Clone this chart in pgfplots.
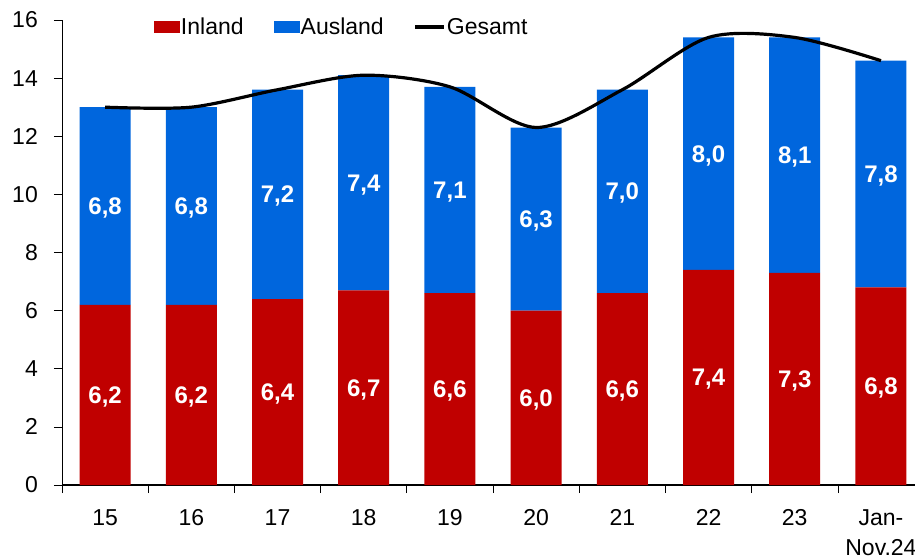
\documentclass[border=0pt]{standalone}
\usepackage{pgfplots}
\pgfplotsset{compat=1.18}
\usepackage{pgfplotstable}
\usepackage{fontspec}
\setmainfont{Liberation Sans}
\definecolor{inred}{HTML}{C00000}
\definecolor{ausblue}{HTML}{0066DD}
\pgfplotstableread{
x in au tot lin lau
0 6.2 6.8 13.0 6,2 6,8
1 6.2 6.8 13.0 6,2 6,8
2 6.4 7.2 13.6 6,4 7,2
3 6.7 7.4 14.1 6,7 7,4
4 6.6 7.1 13.7 6,6 7,1
5 6.0 6.3 12.3 6,0 6,3
6 6.6 7.0 13.6 6,6 7,0
7 7.4 8.0 15.4 7,4 8,0
8 7.3 8.1 15.4 7,3 8,1
9 6.8 7.8 14.6 6,8 7,8
}\datatable
\pgfplotsset{
  common/.style={
    scale only axis,
    width=853pt, height=465pt,
    xmin=-0.5, xmax=9.395,
    ymin=0, ymax=16,
    /pgf/number format/assume math mode=true,
  }
}
\begin{document}
\begin{tikzpicture}
\begin{axis}[
  common,
  ybar stacked,
  bar width=51pt,
  axis x line*=bottom,
  axis y line*=left,
  x axis line style={black, line width=1.2pt},
  y axis line style={black, line width=0.7pt},
  tick style={black, line width=0.7pt},
  tick align=outside,
  major tick length=8pt,
  ytick={0,2,...,16},
  yticklabel style={font=\fontsize{23}{23}\selectfont, anchor=east, inner sep=0pt, xshift=-16pt},
  xtick={-0.5,0.5,...,8.5},
  xticklabels={},
  extra x ticks={0,1,...,9},
  extra x tick labels={15,16,17,18,19,20,21,22,23,{Jan-\\Nov.24}},
  extra x tick style={major tick length=0pt, xticklabel style={font=\fontsize{23}{30}\selectfont, align=center, anchor=north, inner sep=0pt, yshift=-24pt}},
  legend image code/.code={\fill[#1] (0pt,-6pt) rectangle (26pt,6pt);},
  legend columns=3,
  legend style={draw=none, fill=none, inner sep=0pt, outer sep=0pt,
    at={(0,1)}, anchor=west, xshift=92pt, yshift=-7pt,
    font=\fontsize{23}{23}\selectfont,
    nodes={inner sep=1pt},
    /tikz/every even column/.append style={column sep=29pt}},
  nodes near coords,
  point meta=explicit symbolic,
  every node near coord/.append style={font=\fontsize{24}{24}\selectfont\bfseries, text=white, anchor=center, yshift=-2pt},
]
\addplot[fill=inred, draw=none]
  table[x=x, y=in, meta=lin] {\datatable};
\addlegendentry{Inland}
\addplot[fill=ausblue, draw=none]
  table[x=x, y=au, meta=lau] {\datatable};
\addlegendentry{Ausland}
\addlegendimage{legend image code/.code={\draw[black, line width=3.2pt] (0pt,0pt) -- (29pt,0pt);}}
\addlegendentry{Gesamt}
\end{axis}
\begin{axis}[common, hide axis]
\addplot[black, line width=3.2pt, smooth, mark=none] table[x=x, y=tot] {\datatable};
\end{axis}
\pgfresetboundingbox
\path[use as bounding box] ([xshift=-62pt,yshift=-72pt]current axis.south west) rectangle ([yshift=20pt]current axis.north east);
\end{tikzpicture}
\end{document}
